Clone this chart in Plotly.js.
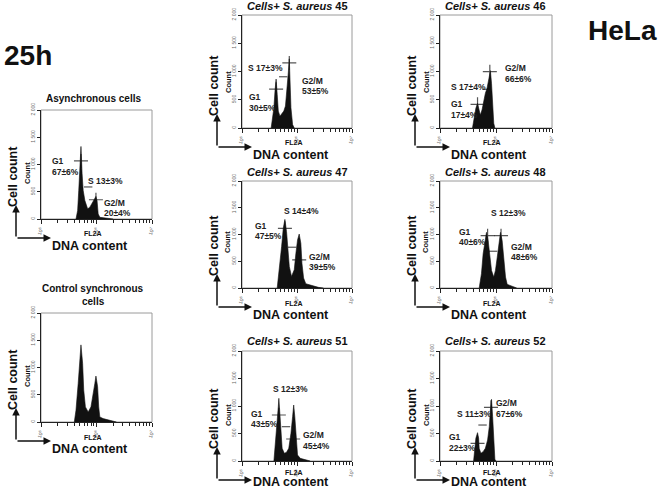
<!DOCTYPE html>
<html><head><meta charset="utf-8">
<script src="https://cdn.plot.ly/plotly-3.0.1.min.js"></script>
<style>html,body{margin:0;padding:0;background:#fff}#chart{width:660px;height:490px}</style>
</head><body><div id="chart"></div>
<script>
// ---------- DATA (FL2A channel value vs cell count) ----------
const asyncFL2A = [4.27e5,4.57e5,4.79e5,5.01e5,5.25e5,5.50e5,5.75e5,6.17e5,6.92e5,7.59e5,8.51e5,9.77e5,1.023e6,1.072e6,1.148e6,1.514e6,1.995e6];
const asyncCount = [0,155,526,1022,1331,836,526,340,186,217,310,415,340,93,31,10,0];

const controlFL2A = [3.981e5,4.266e5,4.677e5,5.012e5,5.248e5,5.623e5,5.888e5,6.310e5,7.079e5,7.943e5,8.710e5,9.333e5,9.772e5,1.047e6,1.096e6,1.148e6,1.318e6,1.622e6,1.995e6,2.291e6];
const controlCount = [0,215,708,1138,1415,1077,585,277,185,277,492,708,843,646,277,92,62,43,18,0];

const s45FL2A = [3.388e5,3.548e5,3.802e5,3.981e5,4.169e5,4.365e5,4.571e5,4.898e5,5.248e5,5.754e5,6.166e5,6.607e5,6.918e5,7.244e5,7.413e5,7.762e5,8.318e5,8.913e5];
const s45Count = [0,119,358,657,866,597,299,209,251,300,388,657,955,1224,896,360,60,0];

const s46FL2A = [3.802e5,4.074e5,4.365e5,4.677e5,5.012e5,5.248e5,5.623e5,6.026e5,6.457e5,6.918e5,7.413e5,7.943e5,8.318e5,8.710e5,9.120e5,9.550e5];
const s46Count = [0,200,348,437,319,230,319,496,614,703,880,1015,791,437,83,0];

const s47FL2A = [4.365e5,4.786e5,5.248e5,5.623e5,6.026e5,6.457e5,6.761e5,7.244e5,7.943e5,8.913e5,9.550e5,1.023e6,1.096e6,1.175e6,1.230e6,1.318e6,1.445e6,1.862e6,2.455e6,3.020e6];
const s47Count = [0,340,774,1115,1282,1053,712,402,217,340,650,898,1009,836,464,186,80,43,12,0];

const s48FL2A = [5.012e5,5.495e5,5.888e5,6.457e5,6.761e5,7.244e5,7.762e5,8.318e5,9.120e5,9.772e5,1.072e6,1.148e6,1.202e6,1.288e6,1.380e6,1.479e6,1.585e6,1.905e6,2.344e6];
const s48Count = [0,266,638,947,1040,885,576,328,204,328,638,916,1040,885,514,204,68,31,0];

const s51FL2A = [3.802e5,4.074e5,4.365e5,4.571e5,4.677e5,4.898e5,5.129e5,5.370e5,5.888e5,6.457e5,7.079e5,7.762e5,8.318e5,8.710e5,9.120e5,9.550e5,1.023e6,1.148e6,1.413e6,1.738e6];
const s51Count = [0,321,745,988,1139,867,503,230,139,158,230,503,806,1018,806,442,109,48,30,0];

const s52FL2A = [3.981e5,4.169e5,4.365e5,4.677e5,4.898e5,5.012e5,5.370e5,5.888e5,6.457e5,7.079e5,7.586e5,7.943e5,8.318e5,8.710e5,9.120e5,9.550e5,1.000e6];
const s52Count = [0,230,412,515,412,230,139,170,230,382,624,927,1121,806,321,30,0];

// gate markers: G1 (+), S (-), G2/M (+)
const asyncMarkFL2A = [5.25e5,7.08e5,9.77e5];   const asyncMarkCount = [1065,588,353];
const s45MarkFL2A = [4.17e5,5.62e5,7.24e5];     const s45MarkCount = [687,907,1152];
const s46MarkFL2A = [4.68e5,6.76e5,7.76e5];     const s46MarkCount = [419,685,997];
const s47MarkFL2A = [6.03e5,8.13e5,1.096e6];    const s47MarkCount = [1115,762,526];
const s48MarkFL2A = [7.08e5,8.91e5,1.23e6];     const s48MarkCount = [978,687,978];
const s51MarkFL2A = [4.68e5,6.31e5,8.51e5];     const s51MarkCount = [836,624,400];
const s52MarkFL2A = [4.68e5,5.75e5,8.13e5];     const s52MarkCount = [321,654,976];

// phase label texts
const asyncPhase = ['G1','67±6%','S 13±3%','G2/M','20±4%'];
const s45Phase = ['G1','30±5%','S 17±3%','G2/M','53±5%'];
const s46Phase = ['G1','17±4%','S 17±4%','G2/M','66±6%'];
const s47Phase = ['G1','47±5%','S 14±4%','G2/M','39±5%'];
const s48Phase = ['G1','40±6%','S 12±3%','G2/M','48±6%'];
const s51Phase = ['G1','43±5%','S 12±3%','G2/M','45±4%'];
const s52Phase = ['G1','22±3%','S 11±3%','G2/M','67±6%'];

const xTickVals = [1e5,1e6,1e7];
const xTickText = ['10<sup>5</sup>','10<sup>6</sup>','10<sup>7</sup>'];
const yTickVals = [0,500,1000,1500,2000];
const yTickText = ['0','500','1 000','1 500','2 000'];

// ---------- LAYOUT (pixel geometry) ----------
const W = 660, H = 490;
const colL = [41, 242, 440], colR = [152, 352, 552];
const FONT = 'Arial, "Liberation Sans", sans-serif';
const px = x => x / W, py = y => 1 - y / H;

const panels = [
  {x: asyncFL2A, y: asyncCount, mx: asyncMarkFL2A, my: asyncMarkCount, txt: asyncPhase, col:0, top:110, bot:219,
   title:[['<b>Asynchronous cells</b>', 93, 99, 10]],
   lab:[[50,161],[50,172],[86,181],[102,203],[102,213]]},
  {x: controlFL2A, y: controlCount, col:0, top:313, bot:422,
   title:[['<b>Control synchronous</b>', 93, 288, 10],['<b>cells</b>', 93, 301, 10]], lab:[]},
  {x: s45FL2A, y: s45Count, mx: s45MarkFL2A, my: s45MarkCount, txt: s45Phase, col:1, top:15, bot:128,
   title:[['<b><i>Cells+ S. aureus</i> 45</b>', 297, 6, 11]],
   lab:[[247,97],[247,108],[246,68],[300,81],[300,91]]},
  {x: s46FL2A, y: s46Count, mx: s46MarkFL2A, my: s46MarkCount, txt: s46Phase, col:2, top:15, bot:128,
   title:[['<b><i>Cells+ S. aureus</i> 46</b>', 496, 6, 11]],
   lab:[[449,104],[449,115],[449,87],[503,68],[503,79]]},
  {x: s47FL2A, y: s47Count, mx: s47MarkFL2A, my: s47MarkCount, txt: s47Phase, col:1, top:181, bot:288,
   title:[['<b><i>Cells+ S. aureus</i> 47</b>', 297, 172, 11]],
   lab:[[253,226],[253,236],[282,211],[307,257],[307,267]]},
  {x: s48FL2A, y: s48Count, mx: s48MarkFL2A, my: s48MarkCount, txt: s48Phase, col:2, top:181, bot:288,
   title:[['<b><i>Cells+ S. aureus</i> 48</b>', 496, 172, 11]],
   lab:[[457,232],[457,242],[489,213],[509,247],[509,257]]},
  {x: s51FL2A, y: s51Count, mx: s51MarkFL2A, my: s51MarkCount, txt: s51Phase, col:1, top:351, bot:461,
   title:[['<b><i>Cells+ S. aureus</i> 51</b>', 297, 341, 11]],
   lab:[[249,414],[249,424],[271,389],[301,435],[301,446]]},
  {x: s52FL2A, y: s52Count, mx: s52MarkFL2A, my: s52MarkCount, txt: s52Phase, col:2, top:351, bot:461,
   title:[['<b><i>Cells+ S. aureus</i> 52</b>', 496, 341, 11]],
   lab:[[447,437],[447,448],[455,414],[494,403],[494,414]]}
];

const minorVals = [];
[1e5, 1e6].forEach(d => { for (let m = 2; m <= 9; m++) minorVals.push(m * d); });

const data = [], layout = {
  width: W, height: H, margin:{l:0,r:0,t:0,b:0}, showlegend:false,
  paper_bgcolor:'#fff', plot_bgcolor:'#fff', font:{family:FONT, color:'#111'},
  annotations: [], shapes: []
};

panels.forEach((p, i) => {
  const k = i + 1, xa = 'x' + k, ya = 'y' + k;
  const L = colL[p.col], R = colR[p.col];
  data.push({type:'scatter', x:p.x, y:p.y, xaxis:xa, yaxis:ya, mode:'lines',
    line:{color:'#111', width:0.6}, fill:'tozeroy', fillcolor:'#111', hoverinfo:'skip'});
  if (p.mx) {
    data.push({type:'scatter', x:p.mx, y:p.my, xaxis:xa, yaxis:ya, mode:'markers', hoverinfo:'skip',
      marker:{symbol:['cross-thin','line-ew','cross-thin'], size:[10,6,10], color:'#111',
              line:{color:'#111', width:1.2}}});
  }
  layout['xaxis' + k] = {
    type:'log', range:[5,7], domain:[px(L), px(R)], anchor:ya, fixedrange:true,
    showgrid:false, zeroline:false, showline:true, linecolor:'#222', linewidth:1,
    ticks:'outside', ticklen:4, tickcolor:'#222', tickvals:xTickVals, ticktext:xTickText,
    tickangle:-70, tickfont:{size:5, color:'#666', family:FONT},
    minor:{tickvals:minorVals, ticks:'outside', ticklen:2.5, tickcolor:'#222', showgrid:false}
  };
  layout['yaxis' + k] = {
    range:[0,2000], domain:[py(p.bot), py(p.top)], anchor:xa, fixedrange:true,
    showgrid:false, zeroline:false, showline:true, linecolor:'#222', linewidth:1,
    ticks:'outside', ticklen:3, tickcolor:'#222', tickvals:yTickVals, ticktext:yTickText,
    tickangle:-90, tickfont:{size:5, color:'#666', family:FONT}
  };
  // gray frame
  layout.shapes.push({type:'rect', xref:xa + ' domain', yref:ya + ' domain', x0:0, x1:1, y0:0, y1:1,
    line:{color:'#9a9a9a', width:1}, layer:'below'});
  // titles
  p.title.forEach(t => layout.annotations.push({text:t[0], x:px(t[1]), y:py(t[2]), xref:'paper', yref:'paper',
    showarrow:false, xanchor:'center', yanchor:'middle', font:{size:t[3], color:'#111', family:FONT}}));
  // phase labels
  p.lab.forEach((pos, j) => layout.annotations.push({text:'<b>' + p.txt[j] + '</b>', x:px(pos[0]), y:py(pos[1]),
    xref:'paper', yref:'paper', showarrow:false, xanchor:'left', yanchor:'middle',
    font:{size:8.5, color:'#222', family:FONT}}));
  const B = p.bot;
  const add = a => layout.annotations.push(Object.assign({xref:'paper', yref:'paper', showarrow:false,
    xanchor:'center', yanchor:'middle'}, a));
  add({text:'<b>Cell count</b>', x:px(L - 28), y:py(B - 42), textangle:-90, font:{size:12.5, color:'#111', family:FONT}});
  add({text:'<b>Count</b>', x:px(L - 14), y:py(B - 46), textangle:-90, font:{size:7.5, color:'#111', family:FONT}});
  add({text:'<b>FL2A</b>', x:px(L + 52), y:py(Math.min(B + 15, 472)), font:{size:7, color:'#111', family:FONT}});
  add({text:'<b>DNA content</b>', x:px(L + 49), y:py(Math.min(B + 27, 481.5)), font:{size:12.5, color:'#111', family:FONT}});
  // L-shaped arrows
  layout.annotations.push({text:'', x:px(L - 25), y:py(B - 14), xref:'paper', yref:'paper', showarrow:true,
    ax:0, ay:33, arrowhead:2, arrowsize:1, arrowwidth:1.5, arrowcolor:'#111', standoff:0, startstandoff:0});
  layout.annotations.push({text:'', x:px(L + 10), y:py(B + 19), xref:'paper', yref:'paper', showarrow:true,
    ax:-35, ay:0, arrowhead:2, arrowsize:1, arrowwidth:1.5, arrowcolor:'#111', standoff:0, startstandoff:0});
});

layout.annotations.push({text:'<b>25h</b>', x:px(2), y:py(55), xref:'paper', yref:'paper', showarrow:false,
  xanchor:'left', yanchor:'middle', font:{size:28, color:'#111', family:FONT}});
layout.annotations.push({text:'<b>HeLa</b>', x:px(586), y:py(31), xref:'paper', yref:'paper', showarrow:false,
  xanchor:'left', yanchor:'middle', font:{size:28, color:'#111', family:FONT}});

Plotly.newPlot('chart', data, layout, {staticPlot:true, displayModeBar:false});
</script></body></html>
